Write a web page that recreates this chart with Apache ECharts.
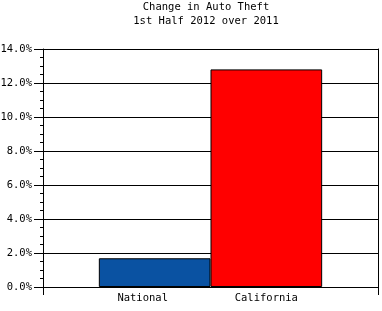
<!DOCTYPE html>
<html><head><meta charset="utf-8">
<script src="https://cdn.jsdelivr.net/npm/echarts@6/dist/echarts.min.js"></script>
<style>html,body{margin:0;padding:0;background:#fff}#c{width:382px;height:311px}</style>
</head><body><div id="c"></div>
<script>
const titleLines = ['Change in Auto Theft', '1st Half 2012 over 2011'];
const categories = ['National', 'California'];
const values = [1.69, 12.8];
const barColors = ['#0a52a2', '#ff0000'];
const yTickValues = [0, 2, 4, 6, 8, 10, 12, 14];

const FONT = '"DejaVu Sans Mono", "Liberation Mono", monospace';
const chart = echarts.init(document.getElementById('c'), null, {renderer: 'canvas'});
chart.setOption({
  animation: false,
  backgroundColor: '#fff',
  title: {
    text: titleLines.join('\n'),
    left: 206, top: 0, padding: 0, textAlign: 'center',
    textStyle: {fontFamily: FONT, fontSize: 10.5, fontWeight: 'normal', color: '#000', lineHeight: 14}
  },
  grid: {left: 43, right: 4, top: 49, bottom: 24, containLabel: false, outerBoundsMode: 'none'},
  xAxis: {
    type: 'value', min: 0, max: categories.length + 1, interval: 1,
    splitLine: {show: false},
    axisLine: {show: true, lineStyle: {color: '#000', width: 1}},
    axisTick: {show: true, customValues: [0, categories.length + 1], length: 8, lineStyle: {color: '#000'}},
    axisLabel: {
      customValues: categories.map((c, i) => i + 1),
      formatter: v => (v === 1 ? '{a|' + categories[0] + '}' : categories[v - 1] || ''),
      rich: {a: {padding: [0, 24, 0, 0], fontFamily: FONT, fontSize: 10.5, color: '#000'}},
      margin: 6, fontFamily: FONT, fontSize: 10.5, color: '#000'
    }
  },
  yAxis: [{
    type: 'value', min: yTickValues[0], max: yTickValues[yTickValues.length - 1], interval: 2,
    axisLine: {show: true, lineStyle: {color: '#000', width: 1}},
    axisTick: {show: true, length: 9, lineStyle: {color: '#000'}},
    minorTick: {show: true, splitNumber: 4, length: 3, lineStyle: {color: '#000'}},
    splitLine: {show: true, lineStyle: {color: '#000', width: 1}},
    axisLabel: {formatter: v => v.toFixed(1) + '%', margin: 11, fontFamily: FONT, fontSize: 10.5, color: '#000'}
  }, {
    type: 'value', position: 'right', min: 0, max: 14,
    axisLine: {show: true, lineStyle: {color: '#000', width: 1}},
    axisTick: {show: false}, axisLabel: {show: false}, splitLine: {show: false}
  }],
  series: [{
    type: 'bar',
    barWidth: 111.67,
    data: values.map((v, i) => ({value: [i + 1, v], itemStyle: {color: barColors[i]}})),
    itemStyle: {borderColor: '#000', borderWidth: 1}
  }]
});
</script></body></html>
